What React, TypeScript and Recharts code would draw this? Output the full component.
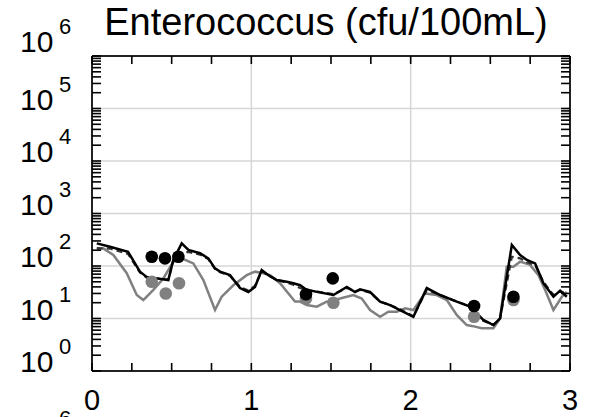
import React from 'react';
import { ComposedChart, Line, Scatter, XAxis, YAxis, CartesianGrid } from 'recharts';

// time (x) and Enterococcus (cfu/100mL) values
const blackSolid = [
  [0.03, 270], [0.113, 233], [0.226, 187], [0.301, 78], [0.343, 62], [0.479, 54], [0.51, 130], [0.563, 270],
  [0.605, 202], [0.678, 175], [0.73, 140], [0.772, 90], [0.804, 78], [0.866, 67], [0.929, 38], [0.981, 32],
  [1.023, 40], [1.065, 84], [1.107, 67], [1.159, 54], [1.222, 50], [1.264, 47], [1.306, 43], [1.348, 35],
  [1.515, 28], [1.599, 40], [1.651, 32], [1.682, 36], [1.745, 32], [1.808, 21], [1.871, 18], [1.933, 14.5],
  [2.017, 10.8], [2.101, 38], [2.185, 28], [2.289, 21], [2.373, 16.8], [2.456, 9.4], [2.519, 7.5], [2.561, 10],
  [2.635, 251], [2.687, 162], [2.729, 130], [2.781, 112], [2.833, 47], [2.896, 26], [2.938, 34], [2.98, 26],
];
const blackDashed = [
  [0.03, 220], [0.113, 215], [0.226, 170], [0.301, 75], [0.343, 60], [0.479, 55], [0.51, 120], [0.563, 180],
  [0.605, 185], [0.678, 165], [0.73, 135], [0.772, 88], [0.804, 76], [0.866, 65], [0.929, 40], [0.981, 34],
  [1.023, 42], [1.065, 80], [1.107, 66], [1.159, 55], [1.222, 48], [1.264, 44], [1.306, 38], [1.348, 35],
  [1.515, 29], [1.599, 38], [1.651, 33], [1.682, 35], [1.745, 31], [1.808, 21], [1.871, 18], [1.933, 15],
  [2.017, 11], [2.101, 35], [2.185, 28], [2.289, 21], [2.373, 17], [2.456, 9], [2.519, 7.5], [2.561, 10],
  [2.635, 150], [2.687, 140], [2.729, 118], [2.781, 105], [2.833, 50], [2.896, 28], [2.938, 33], [2.98, 30],
];
const graySolid = [
  [0.03, 202], [0.071, 217], [0.134, 162], [0.218, 73], [0.281, 28], [0.322, 22.5], [0.385, 35], [0.448, 58],
  [0.51, 121], [0.563, 140], [0.636, 112], [0.699, 54], [0.772, 14.5], [0.814, 26], [0.887, 43], [0.971, 67],
  [1.023, 78], [1.075, 73], [1.117, 67], [1.18, 47], [1.274, 21], [1.306, 21], [1.348, 18], [1.411, 16.8],
  [1.473, 21], [1.557, 24], [1.64, 28], [1.693, 24], [1.745, 14.5], [1.808, 10.8], [1.86, 13.5], [1.913, 13.5],
  [1.965, 15.6], [2.017, 14.5], [2.09, 30], [2.164, 28], [2.227, 22.5], [2.289, 11.7], [2.352, 7.5], [2.404, 7],
  [2.446, 6.5], [2.519, 6.5], [2.561, 10], [2.603, 97], [2.645, 97], [2.687, 121], [2.749, 105], [2.802, 67],
  [2.844, 35], [2.896, 14.5], [2.949, 26], [2.98, 32],
];
const blackDots = [[0.375, 150], [0.458, 140], [0.542, 150], [1.343, 29], [1.511, 58], [2.398, 17.3], [2.645, 26]];
const grayDots = [[0.375, 50], [0.463, 30], [0.546, 47], [1.343, 24], [1.515, 20], [2.398, 10.8], [2.645, 22.5]];

const title = 'Enterococcus (cfu/100mL)';
const xMajor = [0, 1, 2, 3];
const decades = [0, 1, 2, 3, 4, 5, 6];
const cutExponent = '6';

const toRows = (a: number[][]) => a.map(([t, v]) => ({ t, v }));

const xTicks: number[] = [];
xMajor.forEach((m, i) => {
  if (i < xMajor.length - 1) [0, 0.25, 0.5, 0.75].forEach((f) => xTicks.push(m + f));
  else xTicks.push(m);
});
const yTicks: number[] = [];
decades.forEach((d, i) => {
  if (i < decades.length - 1) for (let m = 1; m <= 9; m++) yTicks.push(m * Math.pow(10, d));
  else yTicks.push(Math.pow(10, d));
});
const decadeValues = decades.map((d) => Math.pow(10, d));

const FONT = '"Liberation Sans", Arial, Helvetica, sans-serif';
const GRAY = '#808080';

const LeftTick = (p: any) => {
  const { x, y, payload } = p;
  const v = payload.value;
  const lg = Math.log10(v);
  const e = Math.round(lg);
  const major = Math.abs(lg - e) < 1e-6;
  const by = e === 6 ? y - 4 : y + 1;
  return (
    <g>
      <line x1={x} x2={x + 9} y1={y} y2={y} stroke="#000" strokeWidth={1.6} />
      {major && (
        <text x={x - 72} y={by} fontSize={30} fontFamily={FONT} fill="#000">
          10
          <tspan x={x - 33} dy={-18} fontSize={22}>{e}</tspan>
        </text>
      )}
    </g>
  );
};
const RightTick = (p: any) => {
  const { x, y } = p;
  return <line x1={x - 9} x2={x} y1={y} y2={y} stroke="#000" strokeWidth={1.6} />;
};
const BottomTick = (p: any) => {
  const { x, y, payload } = p;
  const v = payload.value;
  const major = Math.abs(v - Math.round(v)) < 1e-6;
  return (
    <g>
      <line x1={x} x2={x} y1={y} y2={y - 8} stroke="#000" strokeWidth={1.6} />
      {major && (
        <text x={x} y={y + 39} textAnchor="middle" fontSize={29} fontFamily={FONT} fill="#000">
          {v}
        </text>
      )}
    </g>
  );
};
const TopTick = (p: any) => {
  const { x, y } = p;
  return <line x1={x} x2={x} y1={y} y2={y + 8} stroke="#000" strokeWidth={1.6} />;
};

const dot = (color: string) => (props: any) => (
  <circle cx={props.cx} cy={props.cy} r={6.3} fill={color} />
);

export default function App() {
  return (
    <div style={{ position: 'absolute', left: 0, top: 0, width: 589, height: 417, background: '#fff' }}>
      <ComposedChart width={589} height={417} margin={{ top: 0, right: 0, bottom: 0, left: 0 }}>
        <CartesianGrid
          horizontalValues={decadeValues}
          verticalValues={xMajor}
          stroke="#d6d6d6"
          strokeWidth={1.5}
        />
        <XAxis
          dataKey="t"
          type="number"
          domain={[0, 3]}
          ticks={xTicks}
          interval={0}
          height={46}
          tickSize={0}
          tickMargin={0}
          tick={<BottomTick />}
          axisLine={{ stroke: '#222', strokeWidth: 2 }}
          allowDataOverflow
        />
        <XAxis
          xAxisId="top"
          orientation="top"
          dataKey="t"
          type="number"
          domain={[0, 3]}
          ticks={xTicks}
          interval={0}
          height={56}
          tickSize={0}
          tickMargin={0}
          tick={<TopTick />}
          axisLine={{ stroke: '#222', strokeWidth: 2 }}
          allowDataOverflow
        />
        <YAxis
          type="number"
          scale="log"
          domain={[1, 1000000]}
          ticks={yTicks}
          interval={0}
          width={92}
          tickSize={0}
          tickMargin={0}
          tick={<LeftTick />}
          axisLine={{ stroke: '#222', strokeWidth: 2 }}
          allowDataOverflow
        />
        <YAxis
          yAxisId="right"
          orientation="right"
          type="number"
          scale="log"
          domain={[1, 1000000]}
          ticks={yTicks}
          interval={0}
          width={19}
          tickSize={0}
          tickMargin={0}
          tick={<RightTick />}
          axisLine={{ stroke: '#222', strokeWidth: 2 }}
          allowDataOverflow
        />
        <Line data={toRows(graySolid)} dataKey="v" type="linear" stroke={GRAY} strokeWidth={2.5} dot={false} isAnimationActive={false} />
        <Line data={toRows(blackDashed)} dataKey="v" type="linear" stroke="#333" strokeWidth={2.2} strokeDasharray="6 4" dot={false} isAnimationActive={false} />
        <Line data={toRows(blackSolid)} dataKey="v" type="linear" stroke="#000" strokeWidth={2.5} dot={false} isAnimationActive={false} />
        <Scatter data={toRows(grayDots)} dataKey="v" shape={dot(GRAY)} isAnimationActive={false} />
        <Scatter data={toRows(blackDots)} dataKey="v" shape={dot('#000')} isAnimationActive={false} />
      </ComposedChart>
      <svg width={589} height={417} style={{ position: 'absolute', left: 0, top: 0, pointerEvents: 'none' }}>
        <text x={326} y={35} textAnchor="middle" fontSize={38} fontFamily={FONT} fill="#000">
          {title}
        </text>
        <text x={59} y={426} fontSize={22} fontFamily={FONT} fill="#000">
          {cutExponent}
        </text>
      </svg>
    </div>
  );
}
